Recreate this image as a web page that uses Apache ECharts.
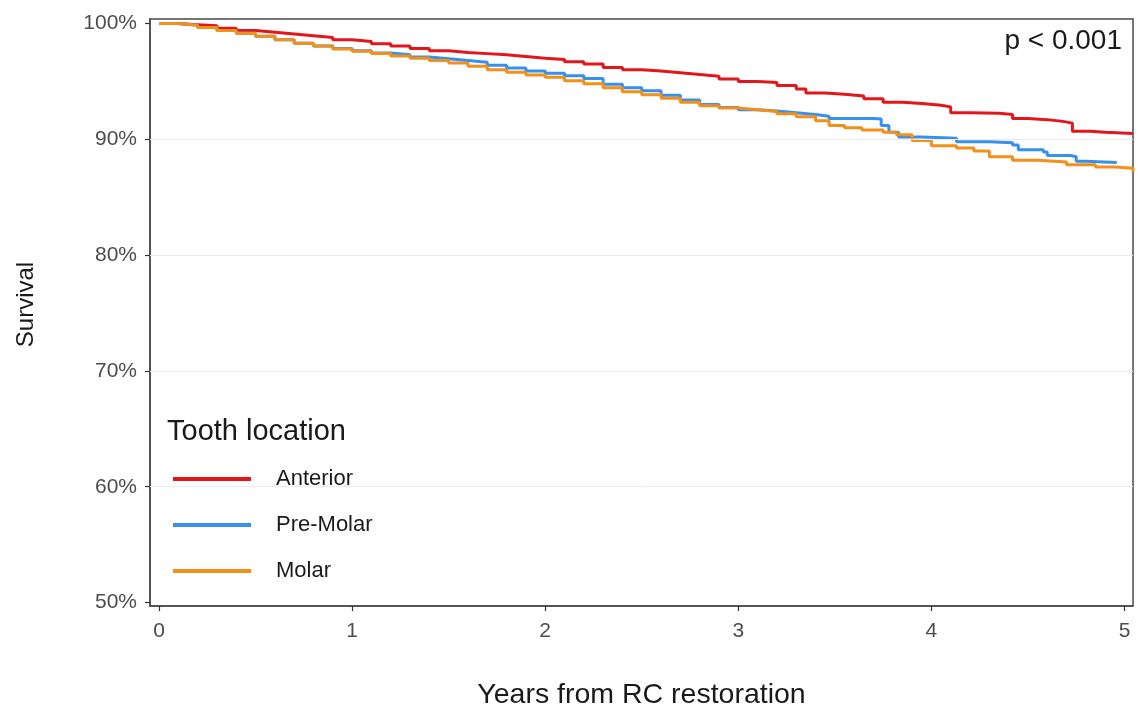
<!DOCTYPE html>
<html><head><meta charset="utf-8">
<script src="https://cdn.jsdelivr.net/npm/echarts@6/dist/echarts.min.js"></script>
<style>html,body{margin:0;padding:0;background:#fff}#c{width:1138px;height:711px}</style>
</head><body><div id="c"></div>
<script>
const groups = ['Anterior', 'Pre-Molar', 'Molar'];
const colors = ['#E3161B', '#3590EE', '#F39019'];
const xTicks = [0, 1, 2, 3, 4, 5];
const yTicks = [50, 60, 70, 80, 90, 100];
const gridYs = [60, 70, 80, 90];

const anteriorT = [0, 0.1, 0.2, 0.3, 0.4, 0.5, 0.6, 0.7, 0.8, 0.9, 1.0, 1.1, 1.2, 1.3, 1.4, 1.5, 1.6, 1.7, 1.8, 1.9, 2.0, 2.1, 2.2, 2.3, 2.4, 2.5, 2.6, 2.7, 2.8, 2.9, 3.0, 3.1, 3.2, 3.3, 3.35, 3.45, 3.55, 3.65, 3.75, 3.85, 3.95, 4.05, 4.1, 4.2, 4.35, 4.42, 4.5, 4.6, 4.68, 4.73, 4.82, 4.9, 5.044];
const anteriorS = [100, 99.9, 99.8, 99.6, 99.4, 99.25, 99.1, 98.95, 98.8, 98.6, 98.45, 98.25, 98.05, 97.85, 97.65, 97.5, 97.4, 97.3, 97.15, 97.0, 96.9, 96.7, 96.5, 96.2, 96.0, 95.9, 95.75, 95.6, 95.45, 95.2, 95.0, 94.9, 94.65, 94.35, 94.0, 93.9, 93.75, 93.5, 93.2, 93.1, 92.95, 92.8, 92.3, 92.25, 92.15, 91.8, 91.7, 91.55, 91.4, 90.7, 90.6, 90.5, 90.5];

const premolarT = [0, 0.1, 0.2, 0.3, 0.4, 0.5, 0.6, 0.7, 0.8, 0.9, 1.0, 1.1, 1.2, 1.3, 1.4, 1.5, 1.6, 1.7, 1.8, 1.9, 2.0, 2.1, 2.2, 2.3, 2.4, 2.5, 2.6, 2.7, 2.8, 2.9, 3.0, 3.1, 3.2, 3.3, 3.4, 3.47, 3.7, 3.74, 3.78, 3.83, 3.95, 4.13, 4.3, 4.42, 4.45, 4.58, 4.6, 4.72, 4.75, 4.8, 4.96];
const premolarS = [100, 99.85, 99.65, 99.4, 99.15, 98.9, 98.6, 98.3, 98.05, 97.85, 97.65, 97.45, 97.3, 97.1, 96.95, 96.8, 96.65, 96.4, 96.15, 95.9, 95.7, 95.5, 95.25, 94.75, 94.45, 94.2, 93.8, 93.4, 93.0, 92.75, 92.55, 92.45, 92.3, 92.15, 92.0, 91.8, 91.75, 91.2, 90.6, 90.2, 90.1, 89.8, 89.7, 89.5, 89.1, 88.9, 88.6, 88.5, 88.1, 88.0, 88.0];

const molarT = [0, 0.1, 0.2, 0.3, 0.4, 0.5, 0.6, 0.7, 0.8, 0.9, 1.0, 1.1, 1.2, 1.3, 1.4, 1.5, 1.6, 1.7, 1.8, 1.9, 2.0, 2.1, 2.2, 2.3, 2.4, 2.5, 2.6, 2.7, 2.8, 2.9, 3.0, 3.1, 3.2, 3.3, 3.4, 3.47, 3.55, 3.64, 3.75, 3.82, 3.9, 4.0, 4.13, 4.22, 4.3, 4.42, 4.55, 4.7, 4.85, 4.95, 5.044];
const molarS = [100, 99.85, 99.65, 99.4, 99.15, 98.9, 98.6, 98.3, 98.05, 97.8, 97.6, 97.4, 97.2, 97.0, 96.8, 96.6, 96.3, 96.0, 95.8, 95.55, 95.35, 95.05, 94.8, 94.45, 94.1, 93.85, 93.55, 93.2, 92.9, 92.7, 92.55, 92.4, 92.2, 91.95, 91.6, 91.2, 91.0, 90.8, 90.6, 90.4, 89.9, 89.45, 89.25, 89.0, 88.5, 88.2, 88.05, 87.8, 87.6, 87.5, 87.2];

const times = [anteriorT, premolarT, molarT];
const surv = [anteriorS, premolarS, molarS];

const font = 'Liberation Sans, Arial, sans-serif';
const chart = echarts.init(document.getElementById('c'), null, {renderer: 'canvas'});

const series = groups.map((g, i) => ({
  name: g, type: 'line', step: 'end', showSymbol: false, symbol: 'none', z: 3,
  lineStyle: {color: colors[i], width: 3}, itemStyle: {color: colors[i]},
  data: times[i].map((t, k) => [t, surv[i][k]])
}));
series.unshift({
  name: 'grid', type: 'line', data: [], z: 1, silent: true,
  markLine: {silent: true, symbol: 'none', label: {show: false},
    lineStyle: {color: '#ebebeb', width: 1, type: 'solid'},
    data: gridYs.map(v => ({yAxis: v}))}
});

const axisLineStyle = {show: true, onZero: false, lineStyle: {color: '#4a4a4a', width: 1.5}};

chart.setOption({
  animation: false,
  backgroundColor: '#fff',
  textStyle: {fontFamily: font},
  grid: {left: 150, right: 5, top: 19, bottom: 105, show: true, borderColor: '#4a4a4a', borderWidth: 1.5,
    backgroundColor: 'transparent', containLabel: false, outerBoundsMode: 'none'},
  xAxis: {
    type: 'value', min: -0.0466, max: 5.044,
    name: 'Years from RC restoration', nameLocation: 'middle', nameGap: 75,
    nameTextStyle: {fontSize: 28.5, color: '#1a1a1a', fontFamily: font},
    axisLine: axisLineStyle,
    splitLine: {show: false},
    axisTick: {show: true, inside: false, length: 5, lineStyle: {color: '#333', width: 1.2}, customValues: xTicks},
    axisLabel: {customValues: xTicks, fontSize: 21, color: '#4d4d4d', margin: 15, fontFamily: font,
      formatter: v => String(v)}
  },
  yAxis: {
    type: 'value', min: 49.70, max: 100.39,
    name: 'Survival', nameLocation: 'middle', nameGap: 112,
    nameTextStyle: {fontSize: 24, color: '#1a1a1a', fontFamily: font, padding: [0, 0, 0, 16]},
    axisLine: axisLineStyle,
    splitLine: {show: false},
    axisTick: {show: true, inside: false, length: 5, lineStyle: {color: '#333', width: 1.2}, customValues: yTicks},
    axisLabel: {customValues: yTicks, fontSize: 21, color: '#4d4d4d', margin: 13, fontFamily: font,
      formatter: v => Math.round(v) + '%'}
  },
  title: {
    text: 'Tooth location', left: 162, top: 412,
    textStyle: {fontSize: 29, fontWeight: 'normal', color: '#1a1a1a', fontFamily: font}
  },
  legend: {
    data: groups, orient: 'vertical', left: 168, top: 461,
    itemWidth: 78, itemHeight: 4, itemGap: 20, icon: 'rect', backgroundColor: '#fff',
    textStyle: {fontSize: 22, color: '#1a1a1a', lineHeight: 26, padding: [0, 0, 0, 20], fontFamily: font}
  },
  graphic: [{
    type: 'text', right: 16, top: 27,
    style: {text: 'p < 0.001', fontSize: 28, fill: '#1a1a1a', fontFamily: font}
  }],
  series: series
});
</script></body></html>
